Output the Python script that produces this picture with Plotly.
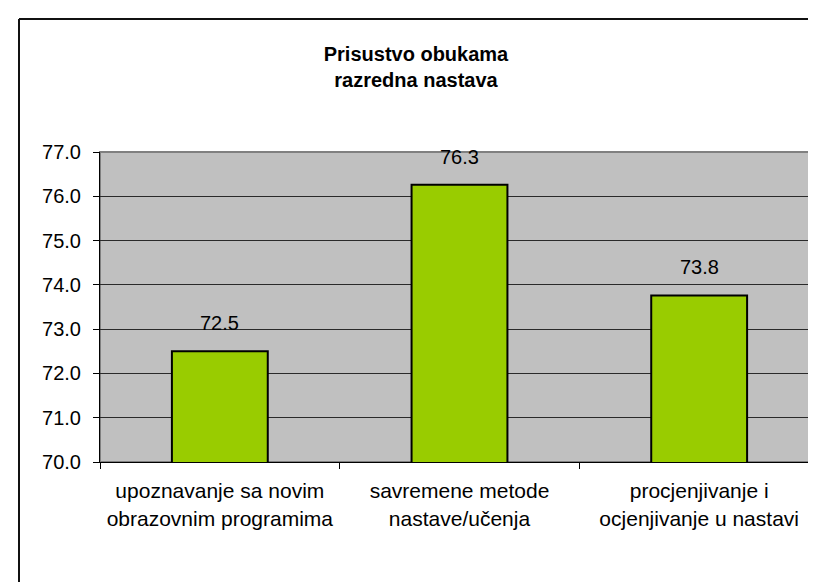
import plotly.graph_objects as go

# Podaci sa grafikona
kategorije = [
    "upoznavanje sa novim<br>obrazovnim programima",
    "savremene metode<br>nastave/učenja",
    "procjenjivanje i<br>ocjenjivanje u nastavi",
]
vrijednosti = [72.5, 76.26, 73.76]
y_tickovi = [70, 71, 72, 73, 74, 75, 76, 77]

FONT = "Liberation Sans, Arial, sans-serif"

fig = go.Figure()
fig.add_trace(
    go.Bar(
        x=kategorije,
        y=vrijednosti,
        marker=dict(color="#99CC00", line=dict(color="black", width=2)),
        width=0.4,
        hoverinfo="skip",
    )
)

# oznake vrijednosti iznad stubaca
for k, v in zip(kategorije, vrijednosti):
    fig.add_annotation(
        x=k, y=v, text=f"{v:.1f}", showarrow=False,
        yanchor="middle", yshift=28,
        font=dict(family=FONT, size=20, color="black"),
    )

# okvir oko cijelog grafikona (desna i donja ivica su van slike)
W, H = 719, 310
px = lambda p: (p - 92) / W
py = lambda p: (454 - p) / H
fig.add_shape(type="line", xref="paper", yref="paper",
              x0=px(11), x1=px(11), y0=py(11), y1=py(600),
              line=dict(color="#111", width=2))
fig.add_shape(type="line", xref="paper", yref="paper",
              x0=px(11), x1=px(830), y0=py(11), y1=py(11),
              line=dict(color="#111", width=2))
# sivi okvir oblasti crtanja
fig.add_shape(type="rect", xref="paper", yref="paper",
              x0=0, x1=1, y0=0, y1=1, layer="below",
              line=dict(color="#808080", width=2))

fig.update_layout(
    width=816,
    height=582,
    margin=dict(l=92, r=5, t=144, b=128),
    paper_bgcolor="white",
    plot_bgcolor="#C0C0C0",
    showlegend=False,
    bargap=0.6,
    font=dict(family=FONT, size=20, color="black"),
    title=dict(
        text="<b>Prisustvo obukama<br>razredna nastava</b>",
        x=0.5, xref="container", xanchor="center",
        y=1 - 53 / 582, yref="container", yanchor="middle",
        font=dict(family=FONT, size=20, color="black"),
    ),
)
fig.update_yaxes(
    range=[70, 77],
    tickvals=y_tickovi,
    tickformat=".1f",
    showgrid=True,
    gridcolor="#2a2a2a",
    gridwidth=1,
    showline=True,
    linecolor="black",
    linewidth=1,
    ticks="outside",
    ticklen=6,
    tickcolor="black",
    ticklabelstandoff=8,
    zeroline=False,
    layer="above traces",
)
fig.update_xaxes(
    showline=True,
    linecolor="black",
    linewidth=1,
    ticks="outside",
    tickson="boundaries",
    ticklen=6,
    tickcolor="black",
    showgrid=False,
    ticklabelstandoff=10,
    tickfont=dict(family=FONT, size=21, color="black"),
)

fig.write_html("out.html")
